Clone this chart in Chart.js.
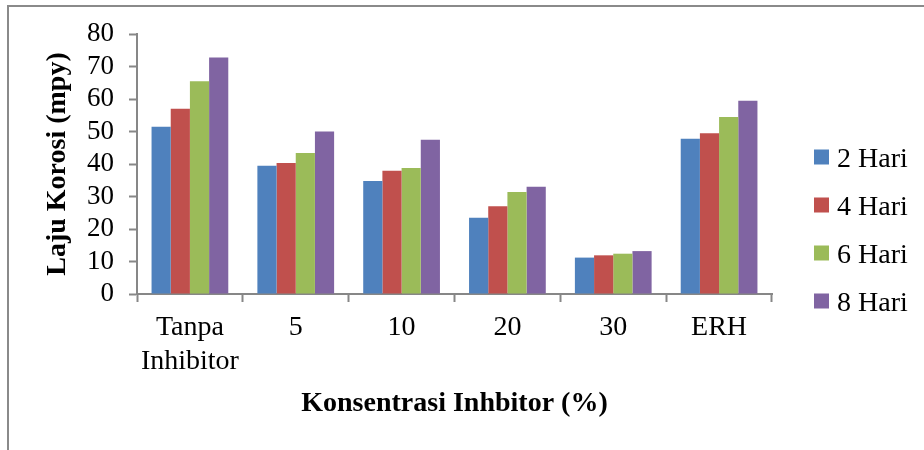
<!DOCTYPE html>
<html>
<head>
<meta charset="utf-8">
<script src="https://cdn.jsdelivr.net/npm/chart.js@4/dist/chart.umd.min.js"></script>
<style>
  html, body { margin: 0; padding: 0; background: #ffffff; }
  #wrap { width: 924px; height: 450px; position: relative; }
</style>
</head>
<body>
<div id="wrap"><canvas id="chart" width="924" height="450"></canvas></div>
<script>
// Corrosion rate (mpy) per inhibitor concentration, measured after 2, 4, 6 and 8 days
const categories = [["Tanpa", "Inhibitor"], "5", "10", "20", "30", "ERH"];
const seriesLabels = ["2 Hari", "4 Hari", "6 Hari", "8 Hari"];
const hari2 = [51.5, 39.5, 34.8, 23.5, 11.2, 47.8];
const hari4 = [57.0, 40.3, 37.9, 27.0, 11.9, 49.5];
const hari6 = [65.5, 43.4, 38.8, 31.4, 12.4, 54.5];
const hari8 = [72.8, 50.0, 47.5, 33.0, 13.2, 59.5];
const yTicks = { min: 0, max: 80, step: 10 };

const colors = ["#4F81BD", "#C0504D", "#9BBB59", "#8064A2"];
const axisColor = "#878787";
const serif = "'Liberation Serif', 'Times New Roman', serif";

// Outer frame line (top and left edges) drawn behind the chart
const framePlugin = {
  id: "frame",
  beforeDraw(chart) {
    const ctx = chart.ctx;
    ctx.save();
    ctx.fillStyle = "#ffffff";
    ctx.fillRect(0, 0, chart.width, chart.height);
    ctx.strokeStyle = "#8a8a8a";
    ctx.lineWidth = 2;
    ctx.beginPath();
    ctx.moveTo(8, chart.height);
    ctx.lineTo(8, 6);
    ctx.lineTo(chart.width, 6);
    ctx.stroke();
    ctx.restore();
  }
};

// Legend column to the right of the plot: square swatch + series name
const sideLegend = {
  id: "sideLegend",
  afterDraw(chart) {
    const ctx = chart.ctx;
    const x = chart.chartArea.right + 42;
    const firstY = 157;
    const gap = 48;
    ctx.save();
    ctx.font = "28px " + serif;
    ctx.textAlign = "left";
    ctx.textBaseline = "alphabetic";
    chart.data.datasets.forEach((ds, i) => {
      const cy = firstY + i * gap;
      ctx.fillStyle = ds.backgroundColor;
      ctx.fillRect(x, cy - 7.5, 15, 15);
      ctx.fillStyle = "#000000";
      ctx.fillText(ds.label, x + 23, cy + 9.5);
    });
    ctx.restore();
  }
};

const seriesValues = [hari2, hari4, hari6, hari8];

new Chart(document.getElementById("chart"), {
  type: "bar",
  data: {
    labels: categories,
    datasets: seriesValues.map((vals, i) => ({
      label: seriesLabels[i],
      data: vals,
      backgroundColor: colors[i],
      borderWidth: 0,
      categoryPercentage: 0.725,
      barPercentage: 1.0
    }))
  },
  options: {
    responsive: false,
    animation: false,
    layout: { padding: { left: 10, top: 34, right: 152, bottom: 0 } },
    plugins: {
      legend: { display: false },
      tooltip: { enabled: false }
    },
    scales: {
      x: {
        grid: {
          display: true,
          drawOnChartArea: false,
          drawTicks: true,
          tickLength: 8,
          tickColor: axisColor,
          tickWidth: 2,
          offset: true
        },
        border: { display: true, color: axisColor, width: 2 },
        ticks: {
          color: "#000000",
          font: { family: serif, size: 28, lineHeight: 1.2 },
          padding: 9,
          maxRotation: 0,
          autoSkip: false
        },
        title: {
          display: true,
          text: "Konsentrasi Inhbitor (%)",
          color: "#000000",
          font: { family: serif, size: 28, weight: "bold", lineHeight: 1.2 },
          padding: { top: 0, bottom: 29 }
        },
        afterFit(scale) { scale.height = 156; }
      },
      y: {
        min: yTicks.min,
        max: yTicks.max,
        grid: {
          display: true,
          drawOnChartArea: false,
          drawTicks: true,
          tickLength: 8,
          tickColor: axisColor,
          tickWidth: 2
        },
        border: { display: true, color: axisColor, width: 2 },
        ticks: {
          stepSize: yTicks.step,
          autoSkip: false,
          color: "#000000",
          font: { family: serif, size: 27 },
          padding: 15
        },
        title: {
          display: true,
          text: "Laju Korosi (mpy)",
          color: "#000000",
          font: { family: serif, size: 28, weight: "bold", lineHeight: 1.2 },
          padding: { top: 31, bottom: 0 }
        },
        afterFit(scale) { scale.width = 127; }
      }
    }
  },
  plugins: [framePlugin, sideLegend]
});
</script>
</body>
</html>
